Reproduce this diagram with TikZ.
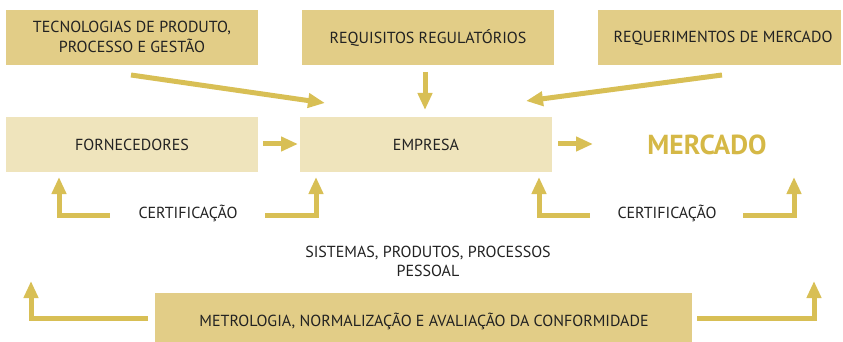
\documentclass[tikz,border=0pt]{standalone}
\usepackage{fontspec}
\setmainfont{PT Sans}
\usetikzlibrary{arrows.meta}
\definecolor{boxdark}{HTML}{E2CD87}
\definecolor{boxlight}{HTML}{EFE4BC}
\definecolor{arr}{HTML}{D8BF55}
\definecolor{merc}{HTML}{D5B846}
\definecolor{txt}{HTML}{222222}
\begin{document}
\begin{tikzpicture}[x=1pt,y=-1pt,
  lbl/.style={text=txt,align=center,inner sep=0pt,font=\fontsize{16}{20}\selectfont},
  flow/.style={draw=arr,line width=5pt,-{Triangle[length=17pt,width=14pt]}}]
\useasboundingbox (0,0) rectangle (843,342);
% boxes
\fill[boxdark] (6,10) rectangle (258,65);
\node[lbl] (tec) at (132,37) {TECNOLOGIAS DE PRODUTO,\\PROCESSO E GESTÃO};
\fill[boxdark] (302,10) rectangle (554,65);
\node[lbl] (reg) at (428,38) {REQUISITOS REGULATÓRIOS};
\fill[boxdark] (598,10) rectangle (841,65);
\node[lbl] (mer) at (723,38) {REQUERIMENTOS DE MERCADO};
\fill[boxlight] (6,117) rectangle (258,172);
\node[lbl] (forn) at (132,145) {FORNECEDORES};
\fill[boxlight] (300,117) rectangle (552,172);
\node[lbl] (emp) at (426,145) {EMPRESA};
\node[text=merc,inner sep=0pt,font=\bfseries\fontsize{27.5}{30}\selectfont] (mercado) at (707,145) {MERCADO};
\fill[boxdark] (155,293) rectangle (692,342);
\node[lbl] (metro) at (424,321) {METROLOGIA, NORMALIZAÇÃO E AVALIAÇÃO DA CONFORMIDADE};
\node[lbl] (cert1) at (188,213) {CERTIFICAÇÃO};
\node[lbl] (cert2) at (667,213) {CERTIFICAÇÃO};
\node[lbl,font=\fontsize{16}{19}\selectfont] (sist) at (428,261) {SISTEMAS, PRODUTOS, PROCESSOS\\PESSOAL};
% coordinates
\coordinate (a1s) at (131,75); \coordinate (a1e) at (325,103);
\coordinate (a2s) at (425,72); \coordinate (a2e) at (425,110);
\coordinate (a3s) at (722,75); \coordinate (a3e) at (526,101);
\coordinate (a4s) at (263,144); \coordinate (a4e) at (298,144);
\coordinate (a5s) at (558,144); \coordinate (a5e) at (593,144);
% arrows
\draw[flow] (a1s) -- (a1e);
\draw[flow] (a2s) -- (a2e);
\draw[flow] (a3s) -- (a3e);
\draw[flow] (a4s) -- (a4e);
\draw[flow] (a5s) -- (a5e);
\draw[flow] (110,215) -| (59,177);
\draw[flow] (265,215) -| (316,177);
\draw[flow] (590,215) -| (539,177);
\draw[flow] (743,215) -| (794,177);
\draw[flow] (148,318) -| (31,281);
\draw[flow] (697,318) -| (814,281);
\end{tikzpicture}
\end{document}
